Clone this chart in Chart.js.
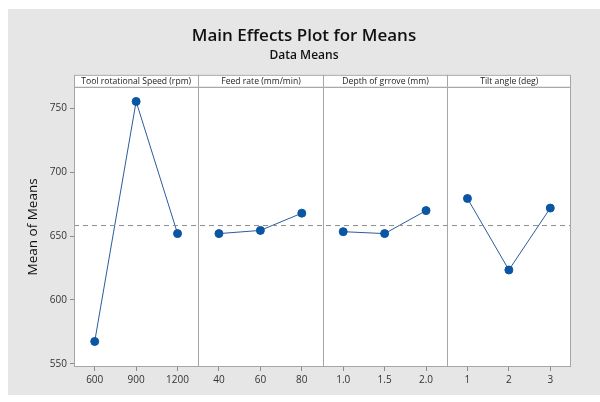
<!DOCTYPE html>
<html>
<head>
<meta charset="utf-8">
<script src="https://cdn.jsdelivr.net/npm/chart.js@4"></script>
<style>
  body { margin: 0; background: #fff; }
  #wrap { position: absolute; left: 8px; top: 9px; width: 592px; height: 386px; background: #e6e6e6; }
</style>
</head>
<body>
<div id="wrap"><canvas id="myChart" width="592" height="386"></canvas></div>
<script>
// factor names (panel headers) and levels
var factors = ['Tool rotational Speed (rpm)', 'Feed rate (mm/min)', 'Depth of grrove (mm)', 'Tilt angle (deg)']
var levels = [['600', '900', '1200'], ['40', '60', '80'], ['1.0', '1.5', '2.0'], ['1', '2', '3']]

// means
var speedMeans = [567.5, 755.5, 652]
var feedMeans = [652, 654.5, 668]
var depthMeans = [653.5, 652, 670]
var tiltMeans = [679.5, 623.5, 672]
var grandMean = 658.3

var yTicks = [550, 600, 650, 700, 750]

var allMeans = [speedMeans, feedMeans, depthMeans, tiltMeans]
var labels = []
levels.forEach(function(l){ labels = labels.concat(l) })

var datasets = allMeans.map(function(m, i){
  var data = labels.map(function(){ return null })
  m.forEach(function(v, j){ data[i * 3 + j] = v })
  return {
    label: factors[i],
    data: data,
    borderColor: '#2a5d9c',
    borderWidth: 1,
    backgroundColor: '#0b56a3',
    pointBackgroundColor: '#0b56a3',
    pointBorderColor: '#0b56a3',
    pointRadius: 4,
    spanGaps: false,
    tension: 0
  }
})

// panel frame, dividers, headers and reference line
var panels = {
  id: 'panels',
  beforeDatasetsDraw: function(chart){
    var a = chart.chartArea
    chart.ctx.save()
    chart.ctx.fillStyle = '#fff'
    chart.ctx.fillRect(a.left, a.top, a.right - a.left, a.bottom - a.top)
    chart.ctx.restore()
  },
  afterDatasetsDraw: function(chart){
    var ctx = chart.ctx
    var a = chart.chartArea
    var x = chart.scales.x
    var y = chart.scales.y
    ctx.save()

    // grand mean
    var ym = y.getPixelForValue(grandMean)
    ctx.strokeStyle = '#8c8c8c'
    ctx.lineWidth = 1
    ctx.setLineDash([5, 4])
    ctx.beginPath()
    ctx.moveTo(a.left, ym)
    ctx.lineTo(a.right, ym)
    ctx.stroke()
    ctx.setLineDash([])

    ctx.strokeStyle = '#a6a6a6'
    ctx.strokeRect(a.left + 0.5, a.top + 0.5, a.right - a.left - 1, a.bottom - a.top - 1)

    var edges = [a.left]
    for (var i = 1; i < 4; i++) {
      edges.push(Math.round((x.getPixelForValue(i * 3 - 1) + x.getPixelForValue(i * 3)) / 2) + 0.5)
    }
    edges.push(a.right)

    for (var k = 1; k < 4; k++) {
      ctx.beginPath()
      ctx.moveTo(edges[k], a.top)
      ctx.lineTo(edges[k], a.bottom)
      ctx.stroke()
    }

    // header strip
    var top = a.top - 12
    ctx.fillStyle = '#fff'
    ctx.fillRect(a.left, top, a.right - a.left, 12)
    ctx.strokeRect(a.left + 0.5, top + 0.5, a.right - a.left - 1, 12)
    ctx.font = '8.6px "Open Sans"'
    ctx.fillStyle = '#222'
    ctx.textAlign = 'center'
    ctx.textBaseline = 'middle'
    for (var p = 0; p < 4; p++) {
      if (p > 0) {
        ctx.beginPath()
        ctx.moveTo(edges[p], top)
        ctx.lineTo(edges[p], a.top)
        ctx.stroke()
      }
      ctx.fillText(factors[p], (edges[p] + edges[p + 1]) / 2, top + 6.5)
    }
    ctx.restore()
  }
}

var myChart = document.getElementById('myChart').getContext('2d')

var chart = new Chart(myChart, {
  type: 'line',
  data: { labels: labels, datasets: datasets },
  options: {
    responsive: false,
    animation: false,
    layout: { padding: 0 },
    plugins: {
      legend: { display: false },
      tooltip: { enabled: false },
      title: {
        display: true,
        text: 'Main Effects Plot for Means',
        color: '#111',
        font: { family: 'Open Sans', size: 17, weight: '600' },
        padding: { top: 17, bottom: 0 }
      },
      subtitle: {
        display: true,
        text: 'Data Means',
        color: '#111',
        font: { family: 'Open Sans', size: 12, weight: '600' },
        padding: { top: 2, bottom: 24 }
      }
    },
    scales: {
      x: {
        type: 'category',
        offset: true,
        grid: { display: true, drawOnChartArea: false, color: '#8c8c8c', tickLength: 4 },
        border: { display: false },
        ticks: { color: '#333', font: { family: 'Open Sans', size: 10 }, padding: 3, autoSkip: false, maxRotation: 0 },
        afterFit: function(s){ s.height = 28 }
      },
      y: {
        min: 547.5,
        max: 767,
        afterBuildTicks: function(s){ s.ticks = yTicks.map(function(v){ return { value: v } }) },
        grid: { display: true, drawOnChartArea: false, color: '#8c8c8c', tickLength: 4 },
        border: { display: false },
        ticks: { color: '#333', font: { family: 'Open Sans', size: 10 }, padding: 3 },
        title: {
          display: true,
          text: 'Mean of Means',
          color: '#111',
          font: { family: 'Open Sans', size: 13.5 },
          padding: { top: 17, bottom: 0 }
        },
        afterFit: function(s){ s.width = 66 }
      },
      // empty right margin so the title stays centred on the whole figure
      yRight: {
        position: 'right',
        display: true,
        grid: { display: false },
        border: { display: false },
        ticks: { display: false },
        afterFit: function(s){ s.width = 29 }
      }
    }
  },
  plugins: [panels]
})
</script>
</body>
</html>
